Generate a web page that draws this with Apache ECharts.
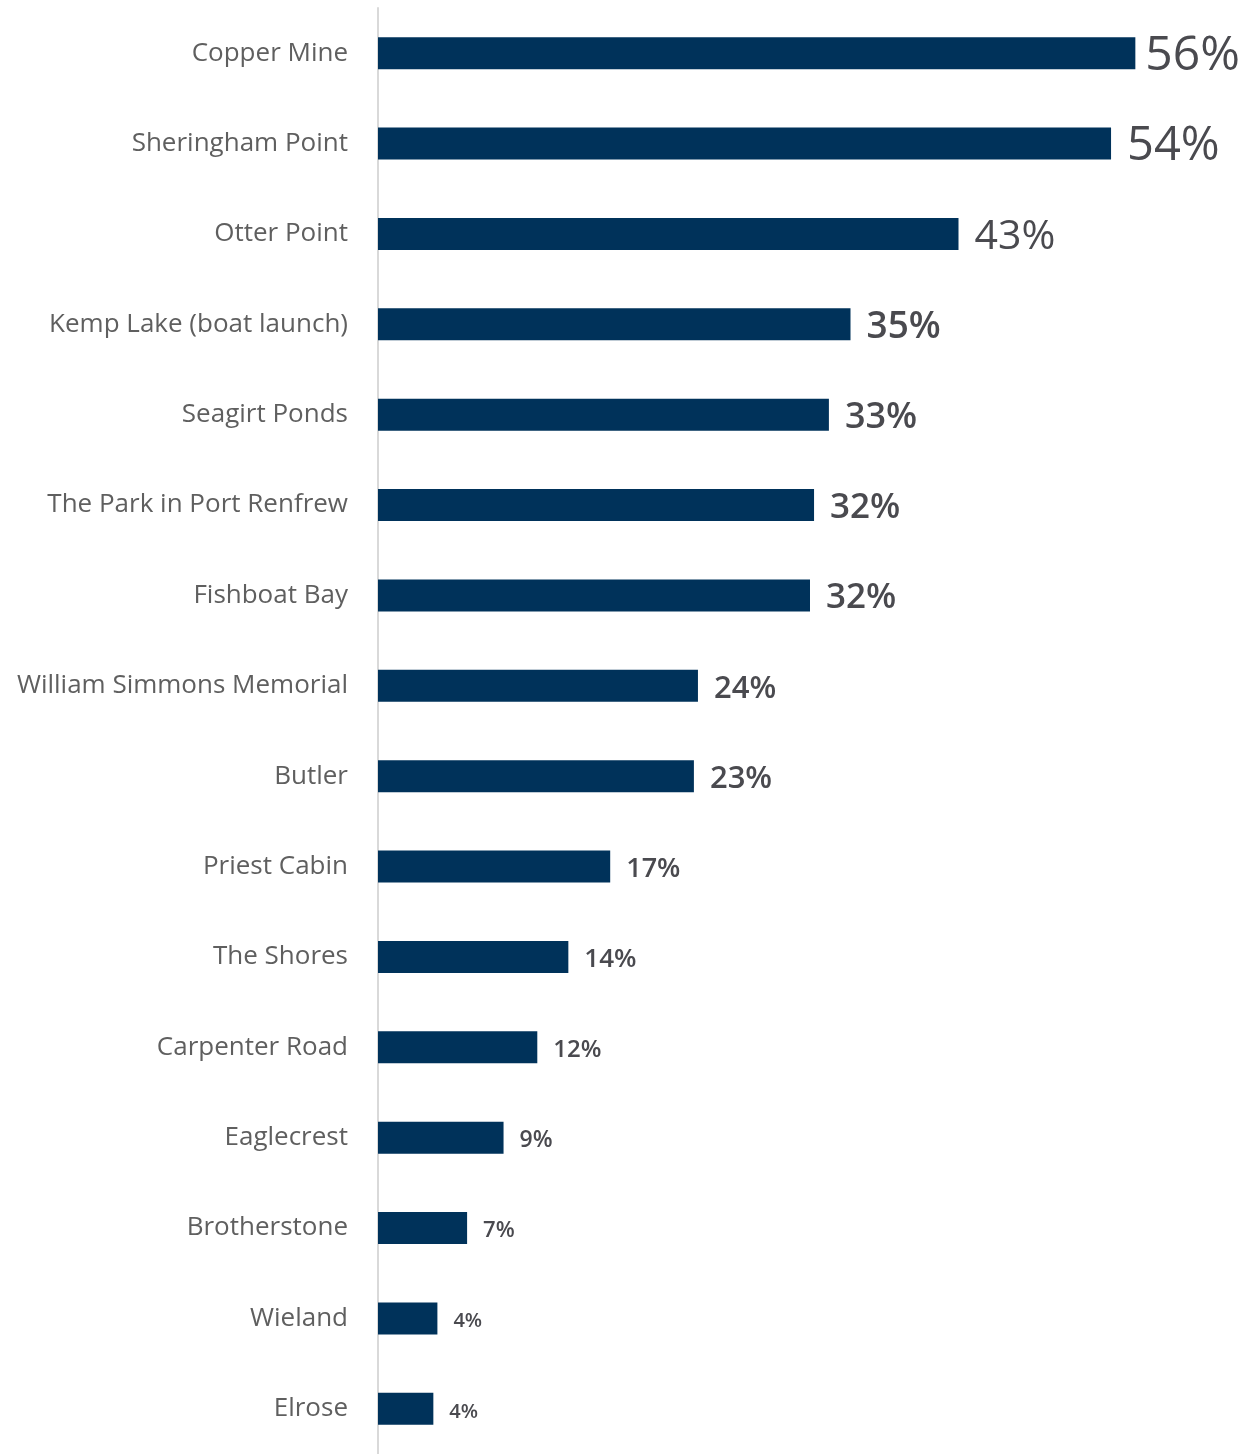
<!DOCTYPE html>
<html>
<head>
<meta charset="utf-8">
<script src="https://cdn.jsdelivr.net/npm/echarts@6/dist/echarts.min.js"></script>
<style>
html,body{margin:0;padding:0;background:#fff;}
#chart{width:1257px;height:1454px;}
</style>
</head>
<body>
<div id="chart"></div>
<script>
const categories = [
  "Copper Mine", "Sheringham Point", "Otter Point", "Kemp Lake (boat launch)",
  "Seagirt Ponds", "The Park in Port Renfrew", "Fishboat Bay", "William Simmons Memorial",
  "Butler", "Priest Cabin", "The Shores", "Carpenter Road",
  "Eaglecrest", "Brotherstone", "Wieland", "Elrose"
];
const values = [56.1, 54.3, 43.0, 35.0, 33.4, 32.3, 32.0, 23.7, 23.4, 17.2, 14.1, 11.8, 9.3, 6.6, 4.4, 4.1];

const chart = echarts.init(document.getElementById('chart'));
const data = values.map(v => ({
  value: v,
  label: {
    fontSize: Math.round(18 + 0.54 * v),
    fontWeight: v > 40 ? 'normal' : 600,
    distance: v > 55 ? 10 : 16
  }
}));

chart.setOption({
  animation: false,
  grid: { left: 378, top: 8, width: 810, height: 1450, containLabel: false },
  xAxis: {
    type: 'value', min: 0, max: 60,
    show: false
  },
  yAxis: {
    type: 'category',
    data: categories,
    inverse: true,
    axisLine: { show: true, lineStyle: { color: '#d9d9d9', width: 2 } },
    axisTick: { show: false },
    axisLabel: {
      margin: 30,
      fontSize: 26,
      fontWeight: 'normal',
      color: '#5f5f5f',
      fontFamily: '"Open Sans", "Noto Sans", sans-serif'
    },
    splitLine: { show: false }
  },
  series: [{
    type: 'bar',
    data: data,
    barWidth: 32,
    itemStyle: { color: '#00325a' },
    label: {
      show: true,
      position: 'right',
      offset: [0, 3],
      color: '#4a4a4f',
      fontFamily: '"Open Sans", "Noto Sans", sans-serif',
      formatter: p => Math.round(p.value) + '%'
    }
  }]
});
</script>
</body>
</html>
